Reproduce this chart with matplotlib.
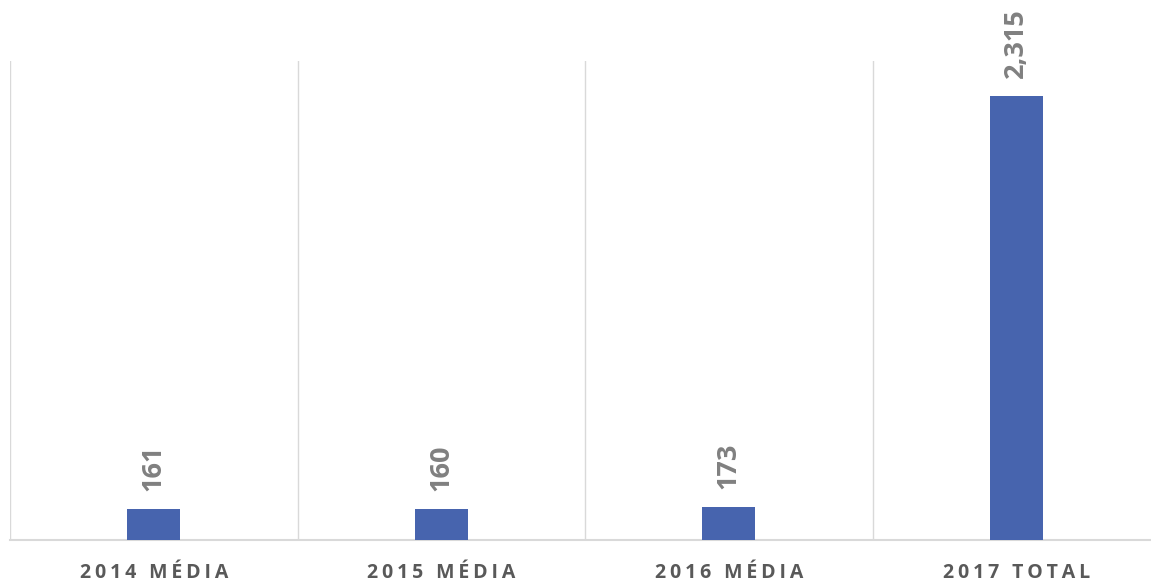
import matplotlib.pyplot as plt

categories = ["2014 MÉDIA", "2015 MÉDIA", "2016 MÉDIA", "2017 TOTAL"]
values = [161, 160, 173, 2315]

BAR_COLOR = "#4764AE"
GRID_COLOR = "#D9D9D9"
LABEL_COLOR = "#808080"
TICK_COLOR = "#595959"

W, H = 1151, 583
fig = plt.figure(figsize=(W / 100, H / 100), dpi=100)
ax = fig.add_axes([10 / W, 43 / H, 1150 / W, 479 / H])

x = range(len(categories))
bars = ax.bar(x, values, width=0.185, color=BAR_COLOR, zorder=3)

ax.set_xlim(-0.5, len(categories) - 0.5)
ax.set_ylim(0, 2500)

# vertical separators between categories
for b in [i - 0.5 for i in range(len(categories) + 1)]:
    ax.axvline(b, color=GRID_COLOR, linewidth=1.0, zorder=1)

for spine in ["top", "right", "left"]:
    ax.spines[spine].set_visible(False)
ax.spines["bottom"].set_color(GRID_COLOR)
ax.spines["bottom"].set_linewidth(1.5)

ax.set_yticks([])
ax.set_xticks(list(x))
# spread letters a bit with thin spaces
spaced = ["\u2009".join(c) for c in categories]
ax.set_xticklabels(spaced, fontsize=14, fontweight="bold", color=TICK_COLOR,
                   family=["Open Sans", "DejaVu Sans"])
ax.tick_params(axis="x", length=0, pad=16.5)

for rect, v in zip(bars, values):
    ax.annotate(f"{v:,}", (rect.get_x() + rect.get_width() / 2, rect.get_height()),
                xytext=(0, 13), textcoords="offset points", rotation=90,
                ha="center", va="bottom", fontsize=19.5, fontweight="bold",
                color=LABEL_COLOR, family="Open Sans")

fig.savefig("out.png", dpi=100)
